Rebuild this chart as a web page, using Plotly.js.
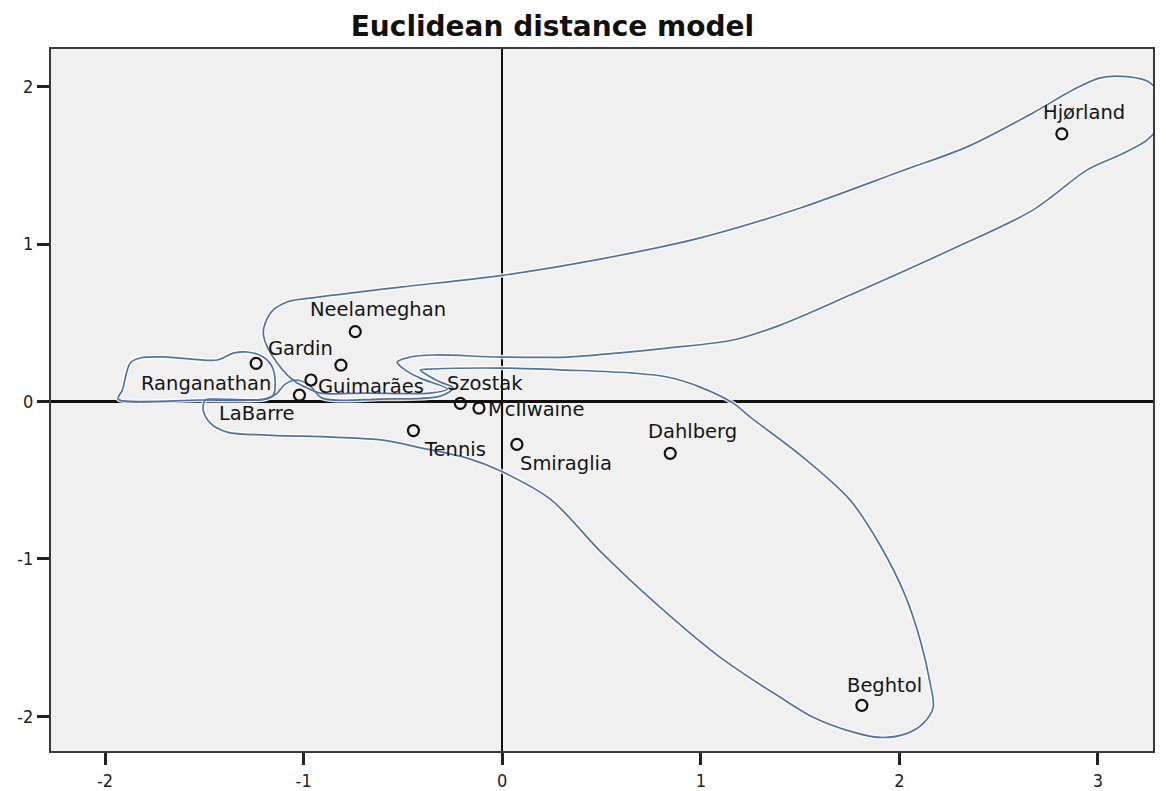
<!DOCTYPE html>
<html>
<head>
<meta charset="utf-8">
<script src="https://cdn.plot.ly/plotly-3.0.1.min.js"></script>
<style>html,body{margin:0;padding:0;background:#fff;}#chart{width:1166px;height:791px;}</style>
</head>
<body>
<div id="chart"></div>
<script>
// Stimulus names and coordinates (dimension 1, dimension 2)
const names = ['Hjørland','Neelameghan','Gardin','Ranganathan','Guimarães','LaBarre','Szostak','McIlwaine','Tennis','Smiraglia','Dahlberg','Beghtol'];
const dim1 = [2.818, -0.740, -0.812, -1.239, -0.963, -1.021, -0.211, -0.117, -0.447, 0.074, 0.846, 1.811];
const dim2 = [1.701, 0.444, 0.232, 0.243, 0.137, 0.041, -0.011, -0.041, -0.184, -0.272, -0.329, -1.930];

// Hand-drawn cluster outlines (data coordinates)
const outlineRx = [-1.934,-1.913,-1.873,-1.823,-1.687,-1.435,-1.354,-1.284,-1.203,-1.158,-1.143,-1.153,-1.193,-1.521,-1.934];
const outlineRy = [0.016,0.073,0.245,0.277,0.283,0.264,0.308,0.315,0.283,0.219,0.118,0.041,0.016,0.010,0.016];

const outlineAx = [-0.916,-0.514,-0.010,0.493,0.997,1.501,2.004,2.341,2.674,2.875,3.011,3.147,3.263,3.328,3.303,3.248,3.112,2.946,2.674,2.256,1.752,1.400,1.163,0.831,0.579,0.327,-0.010,-0.347,-0.463,-0.529,-0.488,-0.413,-0.277,-0.363,-0.680,-0.916,-0.982,-1.032,-1.083,-1.133,-1.183,-1.203,-1.193,-1.153,-1.083,-0.916];
const outlineAy = [0.665,0.727,0.800,0.905,1.040,1.230,1.462,1.618,1.835,1.981,2.057,2.064,2.025,1.873,1.746,1.663,1.568,1.472,1.218,0.963,0.677,0.486,0.391,0.340,0.308,0.283,0.283,0.296,0.283,0.251,0.200,0.149,0.080,0.054,0.054,0.054,0.086,0.118,0.169,0.245,0.347,0.436,0.499,0.582,0.633,0.665];

const outlineBx = [-1.495,-1.455,-1.193,-1.138,-1.093,-1.032,-0.967,-0.906,-0.614,-0.312,-0.247,-0.312,-0.378,-0.413,-0.347,-0.010,0.327,0.660,0.831,0.997,1.163,1.249,1.501,1.752,1.903,2.029,2.105,2.155,2.170,2.120,2.039,1.903,1.737,1.566,1.400,1.098,0.745,0.493,0.242,-0.010,-0.176,-0.428,-0.599,-0.851,-1.183,-1.385,-1.470,-1.506,-1.495];
const outlineBy = [0.010,0.016,0.016,0.048,0.111,0.137,0.099,0.022,0.016,0.035,0.086,0.124,0.169,0.200,0.207,0.213,0.200,0.181,0.156,0.092,-0.010,-0.099,-0.340,-0.626,-0.913,-1.231,-1.517,-1.790,-1.943,-2.045,-2.108,-2.134,-2.089,-2.006,-1.879,-1.625,-1.250,-0.950,-0.620,-0.440,-0.359,-0.289,-0.245,-0.226,-0.213,-0.194,-0.137,-0.054,0.010];

const tickVals = [-2,-1,0,1,2,3];
const xTickText = ['-2','-1','0','1','2','3'];
const yTickVals = [-2,-1,0,1,2];
const yTickText = ['-2','-1','0','1','2'];

// label offsets in pixels [dx, dy(up)]
const labelOffsets = [[22,21],[22.5,21.7],[-40,16.7],[-49.7,-20],[60,-6],[-43,-18.3],[25,20],[57,-1],[42,-19],[49,-19.3],[22.5,21.7],[22.7,20]];

const outlines = [[outlineRx,outlineRy],[outlineAx,outlineAy],[outlineBx,outlineBy]];
const traces = [];
outlines.forEach(o => {
  traces.push({x:o[0], y:o[1], mode:'lines', type:'scatter', hoverinfo:'skip',
    line:{color:'rgba(255,255,255,0.85)', width:4.5, shape:'spline', smoothing:0.9}, showlegend:false});
});
outlines.forEach(o => {
  traces.push({x:o[0], y:o[1], mode:'lines', type:'scatter', hoverinfo:'skip',
    line:{color:'#4f73a6', width:1.7, shape:'spline', smoothing:0.9}, showlegend:false});
});
traces.push({x:dim1, y:dim2, text:names, mode:'markers', type:'scatter',
  marker:{symbol:'circle-open', size:11, color:'#111', line:{width:2.2}}, showlegend:false});

const annotations = names.map((n,i)=>({x:dim1[i], y:dim2[i], xref:'x', yref:'y', text:n, showarrow:false,
  xanchor:'center', yanchor:'middle', xshift:labelOffsets[i][0], yshift:labelOffsets[i][1],
  font:{family:'DejaVu Sans', size:19.5, color:'#151515'}}));

const axisCommon = {ticks:'outside', ticklen:12, tickwidth:3, tickcolor:'#222',
  showgrid:false, zeroline:true, zerolinecolor:'#111', zerolinewidth:2.5,
  showline:true, mirror:true, linecolor:'#3a3a3a', linewidth:2,
  tickfont:{family:'DejaVu Sans Condensed, DejaVu Sans', size:18, color:'#222'}};

const layout = {
  width:1166, height:791,
  margin:{l:51, r:13, t:49, b:40},
  paper_bgcolor:'#ffffff', plot_bgcolor:'#f0f0f0',
  title:{text:'<b>Euclidean distance model</b>', font:{family:'DejaVu Sans', size:28, color:'#111'},
    x:0.455, xref:'paper', xanchor:'center', y:0.967, yref:'container', yanchor:'middle'},
  xaxis:Object.assign({range:[-2.272,3.277], tickmode:'array', tickvals:tickVals, ticktext:xTickText}, axisCommon),
  yaxis:Object.assign({range:[-2.22,2.24], tickmode:'array', tickvals:yTickVals, ticktext:yTickText}, axisCommon),
  annotations:annotations,
  showlegend:false
};
Plotly.newPlot('chart', traces, layout, {displayModeBar:false, staticPlot:true});
</script>
</body>
</html>
